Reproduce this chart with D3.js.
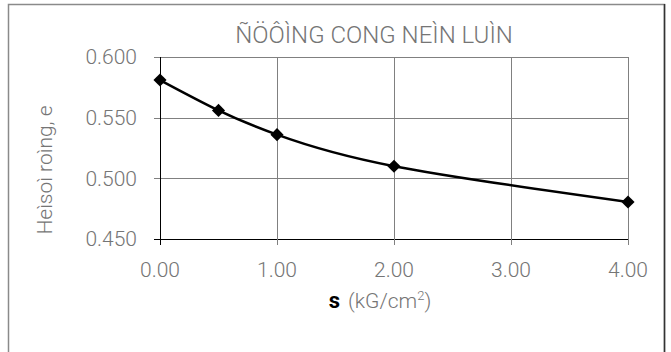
<!DOCTYPE html>
<html>
<head>
<meta charset="utf-8">
<script src="https://cdn.jsdelivr.net/npm/d3@7"></script>
<style>
  body { margin: 0; background: #fff; }
  text { font-family: "Roboto", sans-serif; font-weight: 300; }
</style>
</head>
<body>
<svg width="671" height="352"></svg>
<script>
// data
var pressure = [0, 0.5, 1, 2, 4];
var voidRatio = [0.581, 0.556, 0.536, 0.510, 0.4805];
var xTicks = [0, 1, 2, 3, 4];
var yTicks = [0.45, 0.50, 0.55, 0.60];

var svg = d3.select("svg"),
  margin = {top: 57, right: 43, bottom: 113, left: 160},
  width = 628 - margin.left,
  height = 239 - margin.top,
  g = svg.append("g").attr("transform", "translate(" + margin.left + "," + margin.top + ")");

var points = pressure.map((p, i) => ({s: p, e: voidRatio[i]}));

// outer frame
svg.append("rect")
  .attr("x", 8.5).attr("y", 4.5)
  .attr("width", 656).attr("height", 360)
  .attr("fill", "none")
  .attr("stroke", "#8a8a8a")
  .attr("stroke-width", 1.5);
svg.append("line")
  .attr("x1", 664.5).attr("x2", 664.5).attr("y1", 4).attr("y2", 352)
  .attr("stroke", "#333").attr("stroke-width", 1.5);

var x = d3.scaleLinear().domain([0, 4]).range([0, width]),
  y = d3.scaleLinear().domain([0.45, 0.60]).range([height, 0]);

// grid
g.append("g")
  .selectAll("line")
  .data(yTicks)
  .enter().append("line")
    .attr("x1", -6).attr("x2", width)
    .attr("y1", d => Math.round(y(d)) + 0.5)
    .attr("y2", d => Math.round(y(d)) + 0.5)
    .attr("stroke", d => d === 0.45 ? "#000" : "#808080")
    .attr("stroke-width", 1);

g.append("g")
  .selectAll("line")
  .data(xTicks)
  .enter().append("line")
    .attr("y1", 0).attr("y2", height + 6)
    .attr("x1", d => Math.round(x(d)) + 0.5)
    .attr("x2", d => Math.round(x(d)) + 0.5)
    .attr("stroke", d => d === 0 ? "#000" : "#808080")
    .attr("stroke-width", 1);

// tick labels
g.append("g")
  .selectAll("text")
  .data(yTicks)
  .enter().append("text")
    .attr("x", -23)
    .attr("y", d => y(d))
    .attr("dy", "0.35em")
    .attr("text-anchor", "end")
    .attr("fill", "#757575")
    .style("font-size", "21px")
    .text(d => d3.format(".3f")(d));

g.append("g")
  .selectAll("text")
  .data(xTicks)
  .enter().append("text")
    .attr("x", d => x(d))
    .attr("y", height + 31)
    .attr("dy", "0.35em")
    .attr("text-anchor", "middle")
    .attr("fill", "#757575")
    .style("font-size", "21px")
    .text(d => d3.format(".2f")(d));

// curve through the measured points
var line = d3.line()
  .curve(d3.curveNatural)
  .x(d => x(d.s))
  .y(d => y(d.e));

g.append("path")
  .datum(points)
  .attr("fill", "none")
  .attr("stroke", "#000")
  .attr("stroke-width", 2.5)
  .attr("d", line);

g.selectAll(".pt")
  .data(points)
  .enter().append("path")
    .attr("class", "pt")
    .attr("transform", d => "translate(" + x(d.s) + "," + y(d.e) + ")")
    .attr("d", d3.symbol().type(d3.symbolDiamond2).size(110))
    .attr("fill", "#000");

// title
svg.append("text")
  .attr("x", 374).attr("y", 43)
  .attr("text-anchor", "middle")
  .attr("fill", "#757575")
  .style("font-size", "24px")
  .text("ÑÖÔÌNG CONG NEÌN LUÌN");

// x label
var xl = svg.append("text")
  .attr("x", 380).attr("y", 308)
  .attr("text-anchor", "middle")
  .style("font-size", "21px");
xl.append("tspan").attr("fill", "#000").style("font-weight", 700).style("font-size", "22px").text("s");
xl.append("tspan").attr("fill", "#757575").attr("dx", 8).text("(kG/cm");
xl.append("tspan").attr("fill", "#757575").attr("dy", -8).style("font-size", "13px").text("2");
xl.append("tspan").attr("fill", "#757575").attr("dy", 8).text(")");

// y label
svg.append("text")
  .attr("transform", "translate(52,170) rotate(-90)")
  .attr("text-anchor", "middle")
  .attr("fill", "#757575")
  .style("font-size", "21px")
  .text("Heìsoì roìng, e");
</script>
</body>
</html>
